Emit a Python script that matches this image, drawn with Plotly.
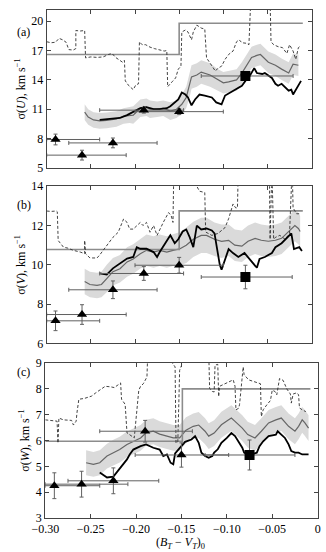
import plotly.graph_objects as go
from plotly.subplots import make_subplots

# x axis ticks (shared by the three panels)
x_ticks = [-0.30, -0.25, -0.20, -0.15, -0.10, -0.05, 0]
x_ticktext = ["\u22120.30", "\u22120.25", "\u22120.20", "\u22120.15", "\u22120.10", "\u22120.05", "0"]

# triangles: same colour bins in every panel
tri_x = [-0.290, -0.260, -0.225, -0.190, -0.150]
sq_x = [-0.075]

# ---------------- panel (a): sigma(U) ----------------
a_thin_x = [-0.300, -0.295, -0.290, -0.286, -0.282, -0.278, -0.275, -0.270, -0.267, -0.267, -0.262, -0.257,
            -0.256, -0.250, -0.243, -0.236, -0.230, -0.226, -0.222, -0.218, -0.214, -0.212, -0.211, -0.207,
            -0.204, -0.202, -0.199, -0.196, -0.195, -0.192, -0.188, -0.183, -0.178, -0.172, -0.167, -0.164,
            -0.163, -0.158, -0.154, -0.151, -0.148, -0.147, -0.143, -0.140, -0.136, -0.134, -0.130, -0.125,
            -0.121, -0.119, -0.115, -0.111, -0.109, -0.106, -0.102, -0.098, -0.094, -0.089, -0.085, -0.082,
            -0.079, -0.074, -0.071, -0.069, -0.047, -0.046, -0.043, -0.038, -0.033, -0.028, -0.025, -0.021,
            -0.018, -0.015, -0.012]
a_thin_y = [17.9, 17.8, 17.85, 18.25, 18.1, 17.85, 17.1, 17.05, 17.2, 19.05, 19.0, 19.05,
            16.25, 16.35, 16.3, 16.35, 16.6, 16.7, 16.3, 16.0, 15.8, 16.0, 13.9, 13.4,
            13.2, 13.0, 13.5, 13.6, 17.9, 17.6, 17.6, 17.35, 17.2, 17.1, 16.95, 17.0,
            13.3, 13.8, 14.2, 15.1, 15.4, 18.9, 19.1, 18.9, 18.1, 18.9, 19.6, 19.3,
            19.2, 16.25, 15.7, 15.25, 14.9, 15.2, 15.4, 16.1, 16.6, 16.95, 17.9, 18.1,
            17.8, 17.75, 17.6, 22.0, 22.0, 17.9, 17.6, 17.4, 17.3, 16.7, 17.6, 16.95,
            16.1, 17.3, 17.5]
a_step_x = [-0.30, -0.15, -0.010]
a_step_y = [16.6, 19.8, 19.8]
a_band_x = [-0.257, -0.253, -0.247, -0.240, -0.232, -0.226, -0.221, -0.213, -0.206, -0.202, -0.194, -0.187, -0.183,
            -0.175, -0.168, -0.160, -0.153, -0.147, -0.142, -0.138, -0.136, -0.130, -0.125, -0.115, -0.106, -0.100,
            -0.094, -0.085, -0.079, -0.074, -0.068, -0.062, -0.058, -0.049, -0.041, -0.034, -0.026, -0.021, -0.015]
a_band_y = [10.7, 10.2, 9.9, 9.8, 9.85, 9.9, 10.0, 10.3, 10.4, 10.4, 11.1, 11.2, 11.0,
            11.0, 11.1, 10.8, 11.0, 11.5, 12.2, 13.5, 14.3, 14.5, 14.8, 14.5, 14.0, 13.7,
            13.8, 14.0, 14.7, 15.4, 16.3, 16.5, 16.6, 15.8, 15.5, 15.1, 14.7, 15.6, 15.5]
a_band_err = [0.8, 0.8, 0.8, 0.8, 0.8, 0.8, 0.8, 0.8, 0.8, 0.9, 0.9, 0.9, 0.9,
              0.8, 0.8, 0.9, 0.9, 1.0, 1.1, 1.2, 1.2, 1.2, 1.2, 1.2, 1.1, 1.1,
              1.1, 1.1, 1.1, 1.1, 1.1, 1.1, 1.1, 1.1, 1.1, 1.1, 1.1, 1.1, 1.1]
a_black_x = [-0.240, -0.232, -0.225, -0.217, -0.209, -0.202, -0.194, -0.187, -0.179, -0.172, -0.164, -0.160,
             -0.155, -0.151, -0.147, -0.143, -0.140, -0.136, -0.132, -0.127, -0.121, -0.113, -0.108, -0.102,
             -0.098, -0.089, -0.079, -0.075, -0.072, -0.065, -0.062, -0.056, -0.053, -0.045, -0.041, -0.038,
             -0.034, -0.026, -0.023, -0.021, -0.015, -0.012]
a_black_y = [9.9, 9.95, 10.0, 10.1, 10.4, 10.7, 11.1, 11.2, 11.0, 11.0, 11.1, 11.3,
             11.7, 12.0, 12.7, 12.5, 12.2, 11.4, 12.0, 12.5, 12.4, 12.2, 11.7, 11.5,
             12.4, 12.9, 13.4, 13.9, 14.1, 15.2, 14.7, 14.6, 14.7, 14.2, 13.6, 13.4,
             13.6, 12.9, 13.0, 12.5, 13.5, 13.9]
a_tri_y = [7.9, 6.3, 7.55, 10.9, 10.75]
a_tri_yerr = [0.55, 0.5, 0.5, 0.3, 0.3]
a_tri_xlo = [-0.30, -0.30, -0.275, -0.24, -0.20]
a_tri_xhi = [-0.24, -0.21, -0.175, -0.145, -0.10]
a_sq_y = [14.4]
a_sq_yerr = [0.3]
a_sq_xlo = [-0.125]
a_sq_xhi = [-0.021]

# ---------------- panel (b): sigma(V) ----------------
b_thin_x = [-0.300, -0.295, -0.289, -0.288, -0.287, -0.281, -0.276, -0.270, -0.262, -0.257, -0.257, -0.256,
            -0.251, -0.243, -0.240, -0.232, -0.225, -0.219, -0.217, -0.213, -0.209, -0.206, -0.202, -0.194,
            -0.191, -0.187, -0.183, -0.179, -0.175, -0.172, -0.168, -0.162, -0.159, -0.157, -0.156, -0.131,
            -0.130, -0.127, -0.121, -0.120, -0.113, -0.106, -0.098, -0.094, -0.089, -0.086, -0.084, -0.083,
            -0.048, -0.047, -0.045, -0.043, -0.041, -0.036, -0.030, -0.025, -0.022, -0.021, -0.017, -0.012]
b_thin_y = [12.74, 12.72, 12.74, 12.7, 11.24, 10.9, 10.85, 10.74, 10.65, 10.57, 11.24, 10.57,
            10.35, 10.35, 10.5, 11.0, 11.4, 11.66, 11.9, 12.33, 12.16, 11.82, 11.82, 12.16,
            12.0, 12.16, 11.66, 12.0, 11.5, 11.82, 12.16, 12.66, 12.5, 12.16, 15.0, 15.0,
            14.0, 13.75, 13.68, 11.67, 11.5, 11.6, 11.9, 12.35, 13.1, 12.9, 12.9, 15.0,
            15.0, 11.3, 15.0, 11.3, 11.4, 11.5, 11.3, 11.6, 15.0, 12.9, 12.6, 12.6]
b_step_x = [-0.30, -0.15, -0.010]
b_step_y = [10.78, 12.75, 12.75]
b_band_x = [-0.257, -0.251, -0.243, -0.238, -0.232, -0.225, -0.217, -0.209, -0.202, -0.194, -0.187, -0.179,
            -0.172, -0.164, -0.157, -0.149, -0.142, -0.134, -0.125, -0.119, -0.110, -0.102, -0.094, -0.087,
            -0.079, -0.072, -0.064, -0.057, -0.049, -0.041, -0.034, -0.026, -0.019, -0.015, -0.013]
b_band_y = [9.15, 9.0, 8.95, 9.0, 9.3, 9.65, 9.8, 10.15, 10.3, 10.57, 10.74, 10.65,
            10.74, 10.65, 10.74, 10.82, 11.0, 11.3, 11.5, 11.5, 11.3, 11.2, 11.25, 11.0,
            10.95, 11.2, 11.35, 11.25, 11.2, 11.25, 11.35, 11.7, 12.0, 11.85, 11.7]
b_band_err = [0.65, 0.65, 0.65, 0.65, 0.7, 0.7, 0.7, 0.75, 0.75, 0.75, 0.8, 0.8,
              0.8, 0.8, 0.8, 0.85, 0.9, 0.9, 0.9, 0.9, 0.85, 0.85, 0.8, 0.8,
              0.8, 0.8, 0.8, 0.8, 0.8, 0.8, 0.8, 0.8, 0.8, 0.8, 0.8]
b_black_x = [-0.240, -0.232, -0.225, -0.217, -0.209, -0.202, -0.198, -0.194, -0.187, -0.179, -0.175, -0.172,
             -0.164, -0.160, -0.155, -0.151, -0.146, -0.142, -0.138, -0.134, -0.130, -0.125, -0.119, -0.113,
             -0.110, -0.108, -0.104, -0.102, -0.098, -0.094, -0.089, -0.083, -0.076, -0.068, -0.062, -0.059,
             -0.053, -0.045, -0.041, -0.034, -0.026, -0.023, -0.020, -0.014, -0.011]
b_black_y = [9.56, 9.5, 9.82, 10.07, 10.32, 10.4, 10.9, 10.82, 10.82, 10.65, 10.4, 10.65,
             11.24, 11.5, 11.1, 11.3, 11.7, 11.8, 11.4, 10.9, 12.0, 11.8, 11.85, 11.75,
             11.6, 11.0, 10.0, 9.75, 10.3, 10.8, 10.6, 10.4, 10.6, 10.2, 9.85, 10.3,
             10.4, 10.6, 10.9, 11.1, 11.5, 11.6, 10.8, 10.9, 10.7]
b_tri_y = [7.15, 7.47, 8.73, 9.56, 9.98]
b_tri_yerr = [0.5, 0.5, 0.45, 0.35, 0.4]
b_tri_xlo = [-0.30, -0.30, -0.275, -0.24, -0.20]
b_tri_xhi = [-0.24, -0.21, -0.175, -0.145, -0.10]
b_sq_y = [9.38]
b_sq_yerr = [0.6]
b_sq_xlo = [-0.125]
b_sq_xhi = [-0.022]

# ---------------- panel (c): sigma(W) ----------------
c_thin_x = [-0.300, -0.295, -0.290, -0.287, -0.286, -0.285, -0.280, -0.276, -0.271, -0.269, -0.266, -0.265,
            -0.263, -0.257, -0.252, -0.249, -0.245, -0.240, -0.234, -0.228, -0.224, -0.220, -0.217, -0.216,
            -0.212, -0.210, -0.206, -0.202, -0.197, -0.195, -0.192, -0.188, -0.187, -0.162, -0.161, -0.157,
            -0.156, -0.154, -0.152, -0.150, -0.148, -0.120, -0.119, -0.116, -0.114, -0.113, -0.110, -0.109,
            -0.108, -0.102, -0.098, -0.095, -0.093, -0.091, -0.090, -0.087, -0.086, -0.082, -0.081, -0.076,
            -0.071, -0.067, -0.063, -0.062, -0.060, -0.056, -0.052, -0.050, -0.047, -0.045, -0.042, -0.038,
            -0.034, -0.030, -0.029, -0.027, -0.023, -0.021, -0.020, -0.017, -0.013]
c_thin_y = [6.8, 6.78, 6.78, 6.75, 5.9, 6.87, 6.8, 6.8, 6.78, 6.6, 6.75, 7.1,
            7.6, 7.63, 7.7, 7.72, 7.83, 7.95, 8.1, 8.08, 8.05, 8.15, 8.23, 7.6,
            7.4, 6.3, 6.2, 6.1, 7.95, 8.1, 8.2, 8.46, 9.5, 9.5, 9.05, 8.85,
            5.9, 5.95, 8.72, 8.9, 9.5, 9.5, 8.02, 7.9, 7.88, 8.92, 8.95, 7.7,
            8.1, 8.2, 8.28, 8.3, 8.35, 8.1, 7.19, 7.25, 7.4, 8.85, 8.55, 8.35,
            8.3, 8.25, 8.2, 6.93, 7.19, 7.38, 7.55, 7.95, 7.9, 7.77, 8.4, 8.33,
            8.0, 7.8, 7.45, 7.8, 7.85, 7.77, 7.26, 7.19, 7.12]
c_step_x = [-0.30, -0.149, -0.008]
c_step_y = [5.97, 8.0, 8.0]
c_band_x = [-0.255, -0.247, -0.240, -0.232, -0.225, -0.218, -0.210, -0.203, -0.195, -0.189, -0.181, -0.174, -0.166,
            -0.159, -0.152, -0.145, -0.137, -0.131, -0.124, -0.120, -0.114, -0.106, -0.098, -0.095, -0.091, -0.083,
            -0.077, -0.069, -0.062, -0.054, -0.046, -0.040, -0.032, -0.025, -0.021, -0.017, -0.014, -0.010]
c_band_y = [5.14, 5.08, 5.14, 5.4, 5.53, 5.65, 5.85, 5.97, 6.1, 6.3, 6.36, 6.25, 6.17,
            6.1, 6.1, 6.4, 6.55, 6.6, 6.36, 6.17, 6.29, 6.61, 6.8, 6.87, 6.74, 6.48,
            6.23, 6.1, 6.36, 6.68, 6.8, 6.87, 6.55, 6.36, 6.55, 6.8, 6.68, 6.48]
c_band_err = [0.48, 0.48, 0.48, 0.48, 0.5, 0.5, 0.5, 0.5, 0.5, 0.5, 0.5, 0.5, 0.5,
              0.5, 0.5, 0.5, 0.5, 0.5, 0.5, 0.5, 0.5, 0.5, 0.5, 0.5, 0.5, 0.5,
              0.5, 0.5, 0.5, 0.5, 0.5, 0.5, 0.5, 0.5, 0.5, 0.5, 0.5, 0.5]
c_black_x = [-0.240, -0.232, -0.225, -0.220, -0.214, -0.210, -0.207, -0.203, -0.195, -0.189, -0.181, -0.174, -0.170,
             -0.166, -0.162, -0.159, -0.157, -0.152, -0.146, -0.139, -0.135, -0.131, -0.128, -0.124, -0.120, -0.116,
             -0.114, -0.110, -0.106, -0.100, -0.095, -0.091, -0.087, -0.083, -0.081, -0.077, -0.073, -0.067, -0.064,
             -0.060, -0.054, -0.046, -0.044, -0.040, -0.036, -0.032, -0.029, -0.025, -0.021, -0.017, -0.014, -0.010]
c_black_y = [4.76, 4.57, 4.6, 4.82, 5.08, 5.27, 5.46, 5.65, 5.78, 5.85, 5.72, 5.65, 5.4,
             5.46, 5.14, 5.08, 5.5, 5.7, 5.95, 6.04, 6.17, 5.91, 5.53, 5.4, 5.33, 5.4,
             5.53, 5.66, 5.91, 6.1, 6.29, 6.17, 5.97, 5.72, 5.53, 5.46, 5.46, 5.53, 5.78,
             5.97, 6.17, 6.23, 6.36, 6.23, 6.1, 5.85, 5.59, 5.53, 5.53, 5.46, 5.46, 5.46]
c_tri_y = [4.25, 4.31, 4.44, 6.36, 5.44]
c_tri_yerr = [0.5, 0.5, 0.5, 0.42, 0.47]
c_tri_xlo = [-0.30, -0.30, -0.275, -0.240, -0.201]
c_tri_xhi = [-0.240, -0.209, -0.175, -0.138, -0.098]
c_sq_y = [5.44]
c_sq_yerr = [0.58]
c_sq_xlo = [-0.124]
c_sq_xhi = [-0.025]

panels = [
    dict(thin=(a_thin_x, a_thin_y), step=(a_step_x, a_step_y), band=(a_band_x, a_band_y, a_band_err),
         black=(a_black_x, a_black_y), tri=(a_tri_y, a_tri_yerr, a_tri_xlo, a_tri_xhi),
         sq=(a_sq_y, a_sq_yerr, a_sq_xlo, a_sq_xhi)),
    dict(thin=(b_thin_x, b_thin_y), step=(b_step_x, b_step_y), band=(b_band_x, b_band_y, b_band_err),
         black=(b_black_x, b_black_y), tri=(b_tri_y, b_tri_yerr, b_tri_xlo, b_tri_xhi),
         sq=(b_sq_y, b_sq_yerr, b_sq_xlo, b_sq_xhi)),
    dict(thin=(c_thin_x, c_thin_y), step=(c_step_x, c_step_y), band=(c_band_x, c_band_y, c_band_err),
         black=(c_black_x, c_black_y), tri=(c_tri_y, c_tri_yerr, c_tri_xlo, c_tri_xhi),
         sq=(c_sq_y, c_sq_yerr, c_sq_xlo, c_sq_xhi)),
]

fig = make_subplots(rows=3, cols=1)

for i, p in enumerate(panels):
    row = i + 1
    bx, by, be = p["band"]
    # light grey scatter band
    fig.add_trace(go.Scatter(x=bx, y=[v + e for v, e in zip(by, be)], mode="lines",
                             line=dict(width=0), hoverinfo="skip"), row=row, col=1)
    fig.add_trace(go.Scatter(x=bx, y=[v - e for v, e in zip(by, be)], mode="lines",
                             line=dict(width=0), fill="tonexty", fillcolor="#dadada",
                             hoverinfo="skip"), row=row, col=1)
    fig.add_trace(go.Scatter(x=bx, y=by, mode="lines", line=dict(color="#666666", width=1.2)),
                  row=row, col=1)
    # grey step line
    sx, sy = p["step"]
    fig.add_trace(go.Scatter(x=sx, y=sy, mode="lines", line_shape="hv",
                             line=dict(color="#8c8c8c", width=1.6)), row=row, col=1)
    # thin dashed curve
    tx, ty = p["thin"]
    fig.add_trace(go.Scatter(x=tx, y=ty, mode="lines",
                             line=dict(color="#303030", width=0.9, dash="3px,2px")), row=row, col=1)
    # thick black curve
    kx, ky = p["black"]
    fig.add_trace(go.Scatter(x=kx, y=ky, mode="lines", line=dict(color="black", width=1.8)),
                  row=row, col=1)
    # triangles with error bars
    ty_, tye, txlo, txhi = p["tri"]
    fig.add_trace(go.Scatter(
        x=tri_x, y=ty_, mode="markers",
        marker=dict(symbol="triangle-up", size=9, color="black"),
        error_x=dict(type="data", symmetric=False,
                     array=[h - x for h, x in zip(txhi, tri_x)],
                     arrayminus=[x - l for l, x in zip(txlo, tri_x)],
                     color="#606060", thickness=1, width=2),
        error_y=dict(type="data", array=tye, color="#606060", thickness=1, width=2)),
        row=row, col=1)
    qy, qye, qxlo, qxhi = p["sq"]
    fig.add_trace(go.Scatter(
        x=sq_x, y=qy, mode="markers",
        marker=dict(symbol="square", size=10, color="black"),
        error_x=dict(type="data", symmetric=False,
                     array=[h - x for h, x in zip(qxhi, sq_x)],
                     arrayminus=[x - l for l, x in zip(qxlo, sq_x)],
                     color="#606060", thickness=1, width=2),
        error_y=dict(type="data", array=qye, color="#606060", thickness=1, width=2)),
        row=row, col=1)

font = dict(family="Liberation Serif, Times New Roman, serif", size=12, color="black")

axis_common = dict(showline=True, linecolor="#444", linewidth=1, mirror="ticks", ticks="inside",
                   ticklen=4, tickcolor="#444", showgrid=False, zeroline=False, tickfont=font)

# the scanned panels are not quite the same width
x_domains = [[0.0062, 0.977], [0.0062, 0.977], [0.001, 0.999]]
y_domains = [[0.6893, 1.0], [0.3437, 0.653], [0.0, 0.305]]
y_ranges = [[5, 21.15], [6, 14], [3, 9]]
y_ticks = [[5, 8, 11, 14, 17, 20], [6, 8, 10, 12, 14], [3, 4, 5, 6, 7, 8, 9]]
y_titles = ["\u03c3(<i>U</i>), km s<sup>\u22121</sup>",
            "\u03c3(<i>V</i>), km s<sup>\u22121</sup>",
            "\u03c3(<i>W</i>), km s<sup>\u22121</sup>"]

for i in range(3):
    xa = "xaxis" if i == 0 else "xaxis%d" % (i + 1)
    ya = "yaxis" if i == 0 else "yaxis%d" % (i + 1)
    fig.layout[xa].update(domain=x_domains[i], range=[-0.30, 0.0001], tickvals=x_ticks,
                          ticktext=x_ticktext, showticklabels=(i == 2), **axis_common)
    fig.layout[ya].update(domain=y_domains[i], range=y_ranges[i], tickvals=y_ticks[i],
                          title=dict(text=y_titles[i], font=font, standoff=3), **axis_common)

fig.add_annotation(text="(<i>B<sub>T</sub></i> \u2212 <i>V<sub>T</sub></i>)<sub>0</sub>",
                   xref="paper", yref="paper", x=0.495, y=-0.049, showarrow=False,
                   font=font, xanchor="center", yanchor="middle")

for label, ypos in [("(a)", 0.957), ("(b)", 0.617), ("(c)", 0.287)]:
    fig.add_annotation(text=label, xref="paper", yref="paper", x=-0.077, y=ypos,
                       showarrow=False, font=font, xanchor="center", yanchor="middle")

fig.update_layout(width=326, height=552, showlegend=False,
                  margin=dict(l=45, r=8, t=3, b=34),
                  paper_bgcolor="white", plot_bgcolor="white", font=font)

# drop the default page margin so the figure sits at the window origin
fig.write_html("out.html", config={"displayModeBar": False},
               post_script="document.body.style.margin = '0';")
